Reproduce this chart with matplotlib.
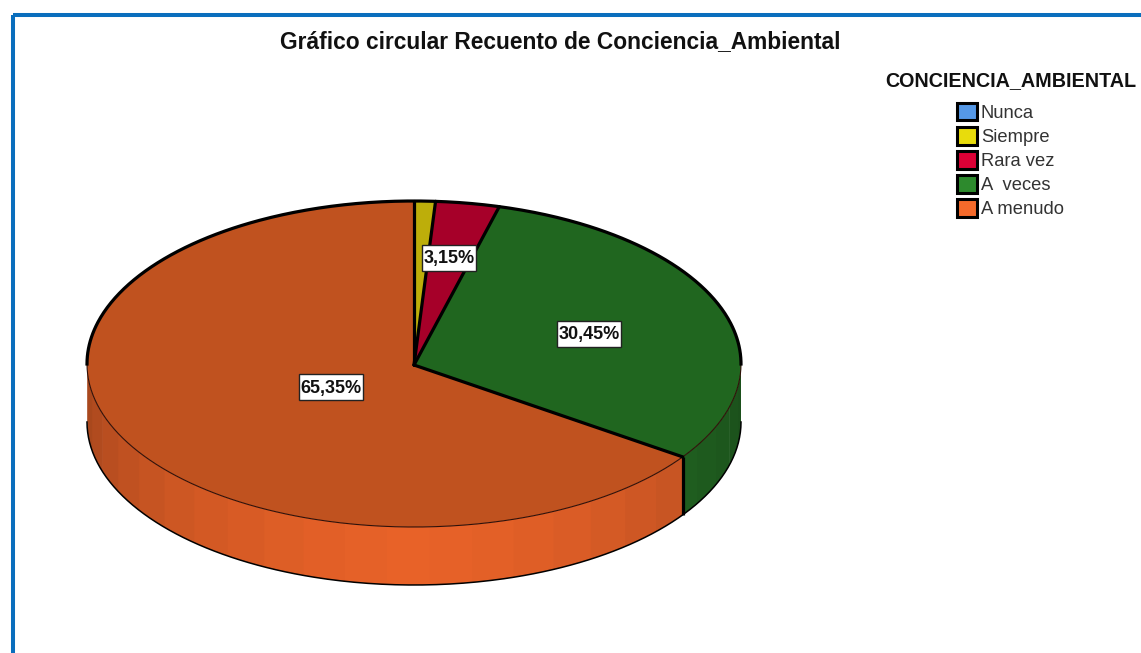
# encoding:utf-8

import numpy as np
import matplotlib

matplotlib.use('Agg')
import matplotlib.pyplot as plt
from matplotlib.patches import Patch, Polygon, Rectangle

categories = ['Nunca', 'Siempre', 'Rara vez', 'A  veces', 'A menudo']
percent = [0.0, 1.05, 3.15, 30.45, 65.35]
top_colors = ['#4A86CC', '#BDAE0A', '#A60029', '#20661F', '#C0521F']
side_colors = ['#4A86CC', '#BDAE0A', '#A60029', '#256F25', '#E86228']
legend_colors = ['#5598E6', '#E8DC0C', '#DC0036', '#2D8A2D', '#F56A2B']
title = 'Gráfico circular Recuento de Conciencia_Ambiental'
legend_title = 'CONCIENCIA_AMBIENTAL'

W, H = 1141, 653
CX, CY = 414, 364
RX, RY = 327, 163
DEPTH = 58
FONT = 'Liberation Sans'
STRIPS = 24
LW = 2.3


def ellipse_xy(deg, drop=0):
    # angle is clockwise from the top of the pie
    rad = np.radians(deg)
    return CX + RX * np.sin(rad), CY - RY * np.cos(rad) + drop


def shade(color, deg):
    # side gets darker away from the front of the pie
    rgb = np.array(matplotlib.colors.to_rgb(color))
    return rgb * (1 - 0.30 * (abs(deg - 180) / 90.0) ** 1.4)


fig = plt.figure(figsize=(W / 100, H / 100), dpi=100)
ax = fig.add_axes([0, 0, 1, 1])
ax.set_xlim(0, W)
ax.set_ylim(H, 0)
ax.axis('off')

# blue frame around the picture
ax.add_patch(Rectangle((13, 15), W, H, fill=False, ec='#0A6EBD', lw=2.9, zorder=1))

ends = np.cumsum(percent) * 3.6
starts = ends - np.array(percent) * 3.6

# side wall, only the visible half (90 to 270 degrees)
for start, end, color in zip(starts, ends, side_colors):
    lo, hi = max(start, 90), min(end, 270)
    if hi <= lo:
        continue
    edges = np.arange(lo, hi + 1e-6, 180.0 / STRIPS)
    edges = np.append(edges, hi) if edges[-1] < hi else edges
    for a, b in zip(edges[:-1], edges[1:]):
        arc = np.linspace(a, b + 0.3, 8)
        x, y = ellipse_xy(arc)
        x2, y2 = ellipse_xy(arc[::-1], DEPTH)
        ax.add_patch(Polygon(np.r_[np.c_[x, y], np.c_[x2, y2]], fc=shade(color, (a + b) / 2),
                             ec='none', zorder=2))

# top of the pie
for start, end, color in zip(starts, ends, top_colors):
    if end <= start:
        continue
    x, y = ellipse_xy(np.linspace(start, end, 200))
    ax.add_patch(Polygon(np.r_[[[CX, CY + 1]], np.c_[x, y]], fc=color, ec='none', zorder=3))

# outlines
arc = np.linspace(90, 270, 300)
x, y = ellipse_xy(arc)
ax.plot(x, y, color='#301008', lw=0.8, zorder=4)
x, y = ellipse_xy(arc, DEPTH)
ax.plot(x, y, color='black', lw=1.1, zorder=4)
arc = np.linspace(-90, 90, 400)
x, y = ellipse_xy(arc)
ax.plot(x, y, color='black', lw=LW, zorder=5)
for start, end in zip(starts, ends):
    if end <= start:
        continue
    x, y = ellipse_xy(end)
    ax.plot([CX, x], [CY + 1, y], color='black', lw=LW, zorder=5, solid_capstyle='round')
# vertical edge of the wall between the two visible slices
x, y = ellipse_xy(ends[3])
ax.plot([x, x], [y, y + DEPTH], color='black', lw=LW, zorder=5, solid_capstyle='butt')

# value labels, small slices have none
label_pos = [None, None, (449, 258), (589, 334), (331, 387)]
for value, pos in zip(percent, label_pos):
    if pos is None:
        continue
    text = ('%.2f%%' % value).replace('.', ',')
    box_w = 10 * len(text) + 4
    ax.add_patch(Rectangle((pos[0] - box_w / 2, pos[1] - 13), box_w, 26, fc='white', ec='#222222',
                           lw=1.0, zorder=6))
    ax.text(pos[0], pos[1] + 1, text, family=FONT, weight='bold', fontsize=13, ha='center',
            va='center', color='#111111', zorder=7)

ax.text(560, 41.5, title, family=FONT, weight='bold', fontsize=16.4, ha='center', va='center',
        color='#111111')

handles = [Patch(fc=c, ec='black', lw=2.2) for c in legend_colors]
leg = ax.legend(handles, categories, title=legend_title, frameon=False,
                loc='upper left', bbox_to_anchor=(885 / W, 1 - 71 / H),
                prop={'family': FONT, 'size': 13.2}, labelcolor='#333333',
                title_fontproperties={'family': FONT, 'weight': 'bold', 'size': 14.2},
                handlelength=1.1, handleheight=1.13, handletextpad=0.2,
                labelspacing=0.27, borderpad=0, borderaxespad=0)
leg.get_title().set_color('#111111')
leg._legend_box.sep = 9

fig.savefig('out.png', dpi=100)
